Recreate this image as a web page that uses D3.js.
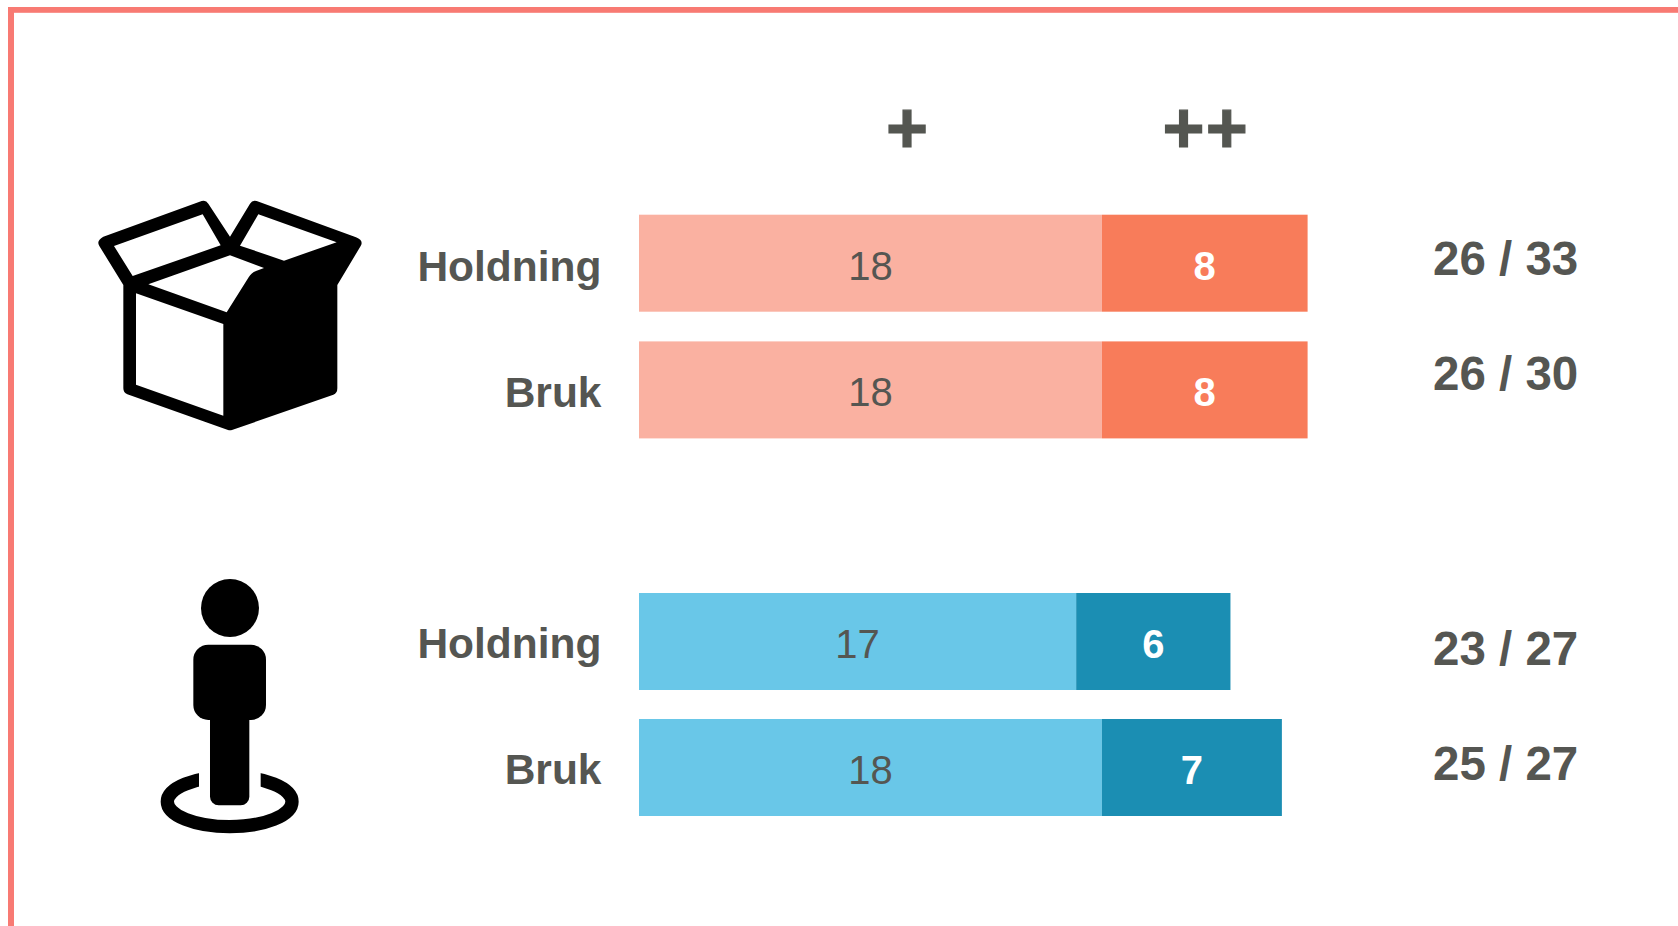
<!DOCTYPE html>
<html><head><meta charset="utf-8">
<style>html,body{margin:0;padding:0;background:#fff;overflow:hidden}svg{display:block}text{font-family:"Liberation Sans",Arial,sans-serif}</style>
<script src="https://cdn.jsdelivr.net/npm/d3@7/dist/d3.min.js"></script>
</head><body><svg id="c" width="1678" height="926"></svg>
<script>
const categories = ["Holdning", "Bruk", "Holdning", "Bruk"];
const plusValues = [18, 18, 17, 18];
const plusPlusValues = [8, 8, 6, 7];
const totalLabels = ["26 / 33", "26 / 30", "23 / 27", "25 / 27"];
const headerLabels = ["+", "++"];
const groups = ["box", "box", "person", "person"];

const svg = d3.select("#c");
const grey = "#555652";
const rowIdx = d3.range(categories.length);
const x = d3.scaleLinear().domain([0, 26]).range([639, 1307.6]);
const rowTop = d3.scaleOrdinal(rowIdx, [214.7, 341.4, 593, 719]);
const rowH = 97;
const lightCol = d3.scaleOrdinal(["box", "person"], ["#FAB1A1", "#69C7E8"]);
const darkCol = d3.scaleOrdinal(["box", "person"], ["#F87C5A", "#1B8EB3"]);
const totalBase = d3.scaleOrdinal(rowIdx, [275, 390, 665, 780]);
const labelBase = d3.scaleOrdinal(rowIdx, [281, 407, 658, 784]);

svg.append("rect").attr("x", 8).attr("y", 7).attr("width", 1670).attr("height", 5.8).attr("fill", "#F87A73");
svg.append("rect").attr("x", 8).attr("y", 7).attr("width", 6).attr("height", 919).attr("fill", "#F87A73");

svg.selectAll("text.h").data(headerLabels).join("text").attr("class", "h")
  .attr("x", (d, i) => [907.6, 1205.8][i]).attr("y", 153)
  .attr("text-anchor", "middle").attr("font-size", 72).attr("font-weight", "bold")
  .attr("letter-spacing", 1.3).attr("stroke", "#545651").attr("stroke-width", 1.2)
  .attr("fill", "#545651").text(d => d);

const row = svg.selectAll("g.row").data(rowIdx).join("g").attr("class", "row");
row.append("rect").attr("x", x(0)).attr("y", i => rowTop(i))
  .attr("width", i => x(plusValues[i]) - x(0)).attr("height", rowH)
  .attr("fill", i => lightCol(groups[i]));
row.append("rect").attr("x", i => x(plusValues[i])).attr("y", i => rowTop(i))
  .attr("width", i => x(plusValues[i] + plusPlusValues[i]) - x(plusValues[i])).attr("height", rowH)
  .attr("fill", i => darkCol(groups[i]));
row.append("text").attr("x", 601.5).attr("y", i => labelBase(i))
  .attr("text-anchor", "end").attr("font-size", 42.5).attr("font-weight", "bold")
  .attr("fill", grey).text(i => categories[i]);
row.append("text").attr("x", i => (x(0) + x(plusValues[i])) / 2).attr("y", i => rowTop(i) + 65)
  .attr("text-anchor", "middle").attr("font-size", 40).attr("fill", grey).text(i => plusValues[i]);
row.append("text").attr("x", i => (x(plusValues[i]) + x(plusValues[i] + plusPlusValues[i])) / 2)
  .attr("y", i => rowTop(i) + 65)
  .attr("text-anchor", "middle").attr("font-size", 40).attr("font-weight", "bold")
  .attr("fill", "#fff").text(i => plusPlusValues[i]);
row.append("text").attr("x", 1433).attr("y", i => totalBase(i))
  .attr("font-size", 47.5).attr("font-weight", "bold").attr("fill", grey).text(i => totalLabels[i]);

const box = svg.append("g").attr("transform", "translate(60,170) scale(0.33333)");
box.append("path").attr("fill-rule", "evenodd").attr("fill", "#000")
  .attr("d", "M130,200 L425,93 Q438,89 445,101 L510,200 L570,101 Q577,89 590,93 L888,202 Q912,212 902,228 L832,345 L832,655 Q832,670 820,674 L516,780 Q510,782 504,780 L202,673 Q190,668 190,655 L190,345 L118,228 Q108,212 130,200 Z "
   + "M162,228 L428,133 L482,226 L218,318 Z "
   + "M595,133 L830,217 L672,272 L540,227 Z "
   + "M510,256 L612,294 L588,303 Q574,308 566,322 L500,427 L265,343 Z "
   + "M228,370 L490,462 L490,737 L228,644 Z");

const person = svg.append("g").attr("transform", "translate(130,560) scale(0.33333)");
person.append("ellipse").attr("cx", 299).attr("cy", 725).attr("rx", 187).attr("ry", 75)
  .attr("fill", "none").attr("stroke", "#000").attr("stroke-width", 40);
person.append("rect").attr("x", 207).attr("y", 620).attr("width", 185).attr("height", 110).attr("fill", "#fff");
person.append("circle").attr("cx", 300).attr("cy", 144).attr("r", 87).attr("fill", "#000");
person.append("rect").attr("x", 190).attr("y", 254).attr("width", 218).attr("height", 226).attr("rx", 45).attr("fill", "#000");
person.append("rect").attr("x", 240).attr("y", 440).attr("width", 118).attr("height", 296).attr("rx", 26).attr("fill", "#000");
</script></body></html>
